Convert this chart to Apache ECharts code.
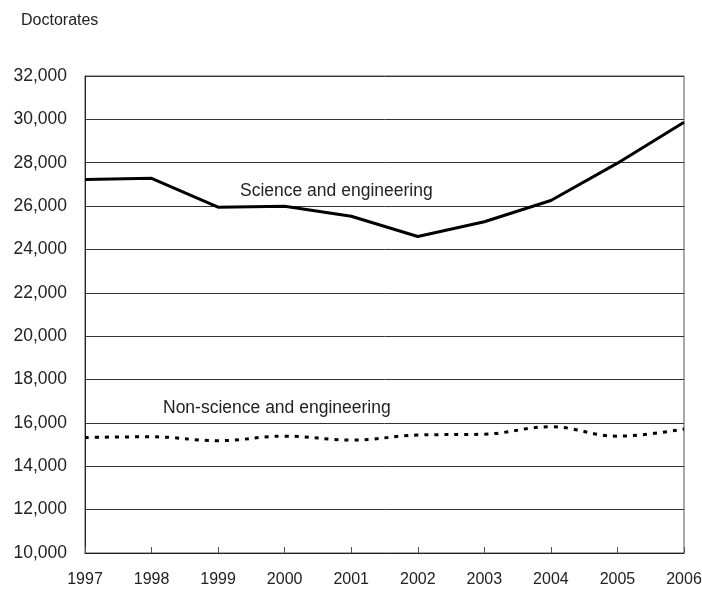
<!DOCTYPE html>
<html>
<head>
<meta charset="utf-8">
<script src="https://cdn.jsdelivr.net/npm/echarts@6/dist/echarts.min.js"></script>
<style>
  html, body { margin: 0; padding: 0; background: #fff; }
  #chart { width: 702px; height: 592px; }
</style>
</head>
<body>
<div id="chart"></div>
<script>
var years = ['1997', '1998', '1999', '2000', '2001', '2002', '2003', '2004', '2005', '2006']
var scienceEng = [27230, 27280, 25950, 25990, 25530, 24600, 25280, 26260, 27980, 29870]
var nonScienceEng = [15330, 15360, 15180, 15390, 15210, 15440, 15480, 15820, 15390, 15720]

var font = '"Liberation Sans", Arial, sans-serif'

var chart = echarts.init(document.getElementById('chart'))
chart.setOption({
    animation: false,
    backgroundColor: '#fff',
    grid: {
        left: 85, right: 18, top: 76, bottom: 39,
        outerBoundsMode: 'none',
        containLabel: false,
        show: true, borderColor: '#555', borderWidth: 1
    },
    graphic: [
        { type: 'text', left: 21, top: 13, style: { text: 'Doctorates', font: '16px ' + font, fill: '#222' } },
        { type: 'text', left: 240, top: 182, style: { text: 'Science and engineering', font: '17.5px ' + font, fill: '#222' } },
        { type: 'text', left: 163, top: 399, style: { text: 'Non-science and engineering', font: '17.5px ' + font, fill: '#222' } }
    ],
    xAxis: {
        type: 'category',
        data: years,
        boundaryGap: false,
        axisLine: { lineStyle: { color: '#222', width: 1 } },
        axisTick: { inside: true, length: 6, lineStyle: { color: '#555' } },
        axisLabel: { margin: 19, color: '#222', fontSize: 16, fontFamily: font },
        splitLine: { show: false }
    },
    yAxis: {
        type: 'value',
        min: 10000, max: 32000, interval: 2000,
        axisLine: { show: true, lineStyle: { color: '#222', width: 1 } },
        axisTick: { show: false },
        axisLabel: {
            margin: 18, color: '#222', fontSize: 17.5, fontFamily: font,
            formatter: function (v) { return v.toLocaleString('en-US') }
        },
        splitLine: { lineStyle: { color: '#333', width: 1 } }
    },
    series: [{
        name: 'Science and engineering',
        type: 'line',
        data: scienceEng,
        symbol: 'none',
        lineStyle: { color: '#000', width: 3 }
    }, {
        name: 'Non-science and engineering',
        type: 'line',
        data: nonScienceEng,
        symbol: 'none',
        smooth: 0.4,
        lineStyle: { color: '#000', width: 3, type: [4, 6] }
    }]
})
</script>
</body>
</html>
